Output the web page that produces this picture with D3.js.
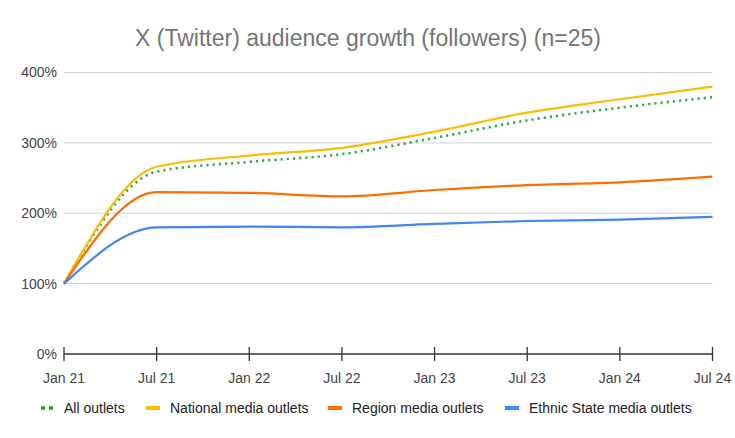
<!DOCTYPE html>
<html><head><meta charset="utf-8">
<script src="https://cdn.jsdelivr.net/npm/d3@7"></script>
<style>body{margin:0;background:#fff}svg{display:block}text{font-family:"Liberation Sans",Arial,sans-serif}</style>
</head><body><svg id="c" width="735" height="438"></svg>
<script>
const categories = ["Jan 21","Jul 21","Jan 22","Jul 22","Jan 23","Jul 23","Jan 24","Jul 24"];
const allOutlets = [100, 259, 273, 284, 307, 332, 350, 365];
const nationalOutlets = [100, 266, 282, 293, 316, 343, 362, 380];
const regionOutlets = [100, 230, 229, 224, 233, 240, 244, 252];
const ethnicOutlets = [100, 180, 181, 180, 185, 189, 191, 195];
const yTicks = [0, 100, 200, 300, 400];
const seriesNames = ["All outlets","National media outlets","Region media outlets","Ethnic State media outlets"];
const seriesColors = ["#34a853","#fbbc04","#ff6d01","#4285f4"];
const seriesValues = [allOutlets, nationalOutlets, regionOutlets, ethnicOutlets];

const svg = d3.select("#c");
const x = d3.scalePoint().domain(categories).range([64, 712.5]);
const y = d3.scaleLinear().domain([0, 400]).range([354, 72.5]);

svg.append("text").attr("x", 368).attr("y", 46).attr("text-anchor","middle")
  .attr("font-size", 23).attr("fill","#757575").text("X (Twitter) audience growth (followers) (n=25)");

svg.append("g").selectAll("line").data(yTicks.filter(d=>d>0)).join("line")
  .attr("x1", x.range()[0]).attr("x2", x.range()[1])
  .attr("y1", d=>y(d)).attr("y2", d=>y(d)).attr("stroke","#d0d0d0").attr("stroke-width",1);

svg.append("g").selectAll("text").data(yTicks).join("text")
  .attr("x", 57).attr("y", d=>y(d)).attr("dy","0.35em").attr("text-anchor","end")
  .attr("font-size", 14).attr("fill","#444").text(d=>d+"%");

const line = d3.line().x((d,i)=>x(categories[i])).y(d=>y(d)).curve(d3.curveMonotoneX);
seriesValues.forEach((vals,i)=>{
  const p = svg.append("path").datum(vals).attr("d", line).attr("fill","none")
    .attr("stroke", seriesColors[i]).attr("stroke-width", 2.2).attr("stroke-linejoin","round");
  if (i===0) p.attr("stroke-dasharray","2.2,4").attr("stroke-width",2.6);
});

const ax = svg.append("g").attr("transform","translate(0,354)");
ax.append("line").attr("x1", x.range()[0]).attr("x2", x.range()[1]).attr("stroke","#333").attr("stroke-width",1.3);
ax.selectAll("line.t").data(categories).join("line").attr("class","t")
  .attr("x1", d=>x(d)).attr("x2", d=>x(d)).attr("y1",-7).attr("y2",7).attr("stroke","#333").attr("stroke-width",1.3);
ax.selectAll("text").data(categories).join("text")
  .attr("x", d=>x(d)).attr("y", 24).attr("dy","0.35em").attr("text-anchor","middle")
  .attr("font-size", 14).attr("fill","#444").text(d=>d);

const legendTextX = [64, 170, 352, 529];
const lg = svg.append("g").attr("transform","translate(0,408)");
seriesNames.forEach((n,i)=>{
  const tx = legendTextX[i];
  const m = lg.append("line").attr("x1",tx-24).attr("x2",tx-10).attr("y1",0).attr("y2",0)
    .attr("stroke", seriesColors[i]).attr("stroke-width",4);
  if (i===0) m.attr("stroke-dasharray","4,4").attr("x1",tx-23).attr("x2",tx-11);
  lg.append("text").attr("x", tx).attr("y",0).attr("dy","0.35em").attr("font-size",14).attr("fill","#222").text(n);
});
</script></body></html>
